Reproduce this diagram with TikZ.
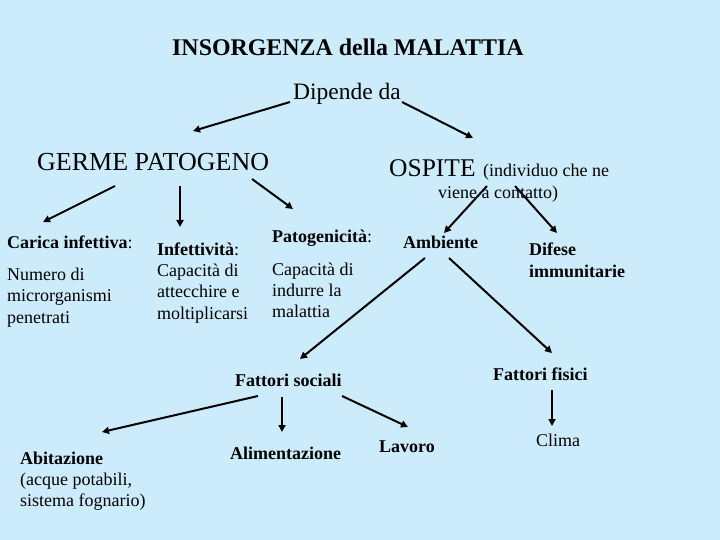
\documentclass[tikz,border=0pt]{standalone}
\usepackage{fontspec}
\setmainfont{Liberation Serif}
\usetikzlibrary{arrows.meta}
\definecolor{bg}{RGB}{204,236,252}
\begin{document}
\begin{tikzpicture}[x=1pt,y=-1pt,
  txt/.style={inner sep=0pt,anchor=base west,align=left,font=\fontsize{18}{21.3}\selectfont},
  btxt/.style={txt,font=\fontsize{18}{21.3}\selectfont\bfseries},
  big/.style={txt,font=\fontsize{26}{30}\selectfont},
  arr/.style={line width=2pt,-{Triangle[length=7pt,width=7pt]}}]
\fill[bg] (0,0) rectangle (720,540);
\useasboundingbox (0,0) rectangle (720,540);
% texts (multi-line nodes are placed by the baseline of their last line)
\node[txt,font=\fontsize{23.9}{28}\selectfont\bfseries] (title) at (172,56) {INSORGENZA della MALATTIA};
\node[txt,font=\fontsize{23.5}{28}\selectfont] (dip) at (293,100) {Dipende da};
\node[big] (germe) at (37,171) {GERME PATOGENO};
\node[big,font=\fontsize{25.5}{30}\selectfont] (ospite) at (389,177) {OSPITE};
\node[txt] (ospiteA) at (483,177) {(individuo che ne};
\node[txt] (ospiteB) at (438,199) {viene a contatto)};
\node[btxt] (carica) at (7,248) {Carica infettiva\textmd{:}};
\node[txt] (numero) at (7,323) {Numero di\\microrganismi\\penetrati};
\node[txt] (infett) at (157,319) {\textbf{Infettività}:\\Capacità di\\attecchire e\\moltiplicarsi};
\node[btxt] (patog) at (272,243) {Patogenicità\textmd{:}};
\node[txt] (capac) at (272,317.7) {Capacità di\\indurre la\\malattia};
\node[btxt] (amb) at (403,248) {Ambiente};
\node[btxt] (difese) at (529,277) {Difese\\immunitarie};
\node[btxt] (fsoc) at (235,386.7) {Fattori sociali};
\node[btxt] (ffis) at (493,380.7) {Fattori fisici};
\node[txt] (abit) at (20,506.7) {\textbf{Abitazione}\\(acque potabili,\\sistema fognario)};
\node[btxt] (alim) at (230,459) {Alimentazione};
\node[btxt] (lav) at (379,452.7) {Lavoro};
\node[txt] (clima) at (536,446.7) {Clima};
% connector ends
\coordinate (dipL) at (290,102);
\coordinate (dipR) at (402,102);
\coordinate (germeIn) at (193,131);
\coordinate (ospiteIn) at (473,138);
\coordinate (germeL) at (115,186);
\coordinate (germeD) at (180,186);
\coordinate (germeR) at (252,179);
\coordinate (caricaIn) at (43,222);
\coordinate (infettIn) at (180,227);
\coordinate (patogIn) at (293,209);
\coordinate (ospL) at (487,186);
\coordinate (ospR) at (515,186);
\coordinate (ambIn) at (444,233);
\coordinate (difeseIn) at (557,233);
\coordinate (ambL) at (425,258);
\coordinate (ambR) at (449,258);
\coordinate (fsocIn) at (300,359);
\coordinate (ffisIn) at (552,353);
\coordinate (fsocL) at (258,396);
\coordinate (fsocD) at (282,397);
\coordinate (fsocR) at (342,396);
\coordinate (abitIn) at (102,432);
\coordinate (alimIn) at (282,432);
\coordinate (lavIn) at (408,427);
\coordinate (ffisD) at (552,390);
\coordinate (climaIn) at (552,426);
% connectors
\draw[arr] (dipL) -- (germeIn);
\draw[arr] (dipR) -- (ospiteIn);
\draw[arr] (germeL) -- (caricaIn);
\draw[arr] (germeD) -- (infettIn);
\draw[arr] (germeR) -- (patogIn);
\draw[arr] (ospL) -- (ambIn);
\draw[arr] (ospR) -- (difeseIn);
\draw[arr] (ambL) -- (fsocIn);
\draw[arr] (ambR) -- (ffisIn);
\draw[arr] (fsocL) -- (abitIn);
\draw[arr] (fsocD) -- (alimIn);
\draw[arr] (fsocR) -- (lavIn);
\draw[arr] (ffisD) -- (climaIn);
\end{tikzpicture}
\end{document}
